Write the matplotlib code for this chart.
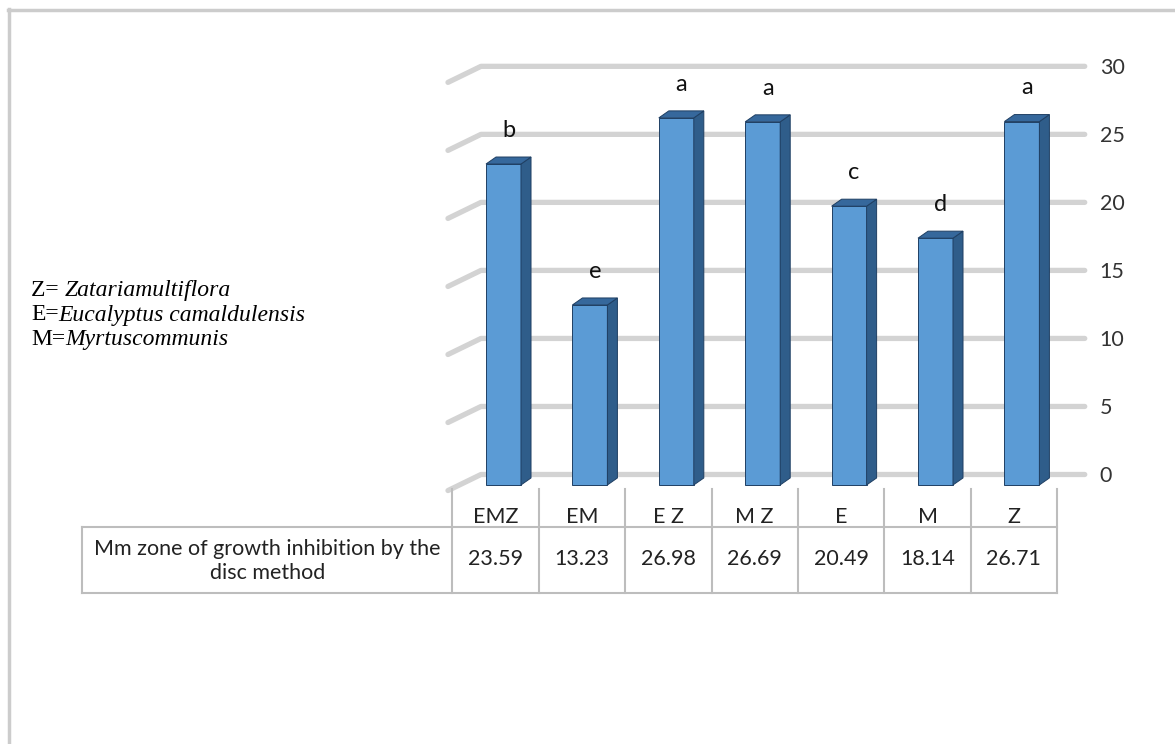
import numpy as np
import matplotlib
matplotlib.use("Agg")
import matplotlib.pyplot as plt
from matplotlib.patches import Polygon
from matplotlib.lines import Line2D
from matplotlib.transforms import blended_transform_factory

categories = ["EMZ", "EM", "E Z", "M Z", "E", "M", "Z"]
values = [23.59, 13.23, 26.98, 26.69, 20.49, 18.14, 26.71]
groups = ["b", "e", "a", "a", "c", "d", "a"]
row_label = "Mm zone of growth inhibition by the\ndisc method"
y_ticks = [0, 5, 10, 15, 20, 25, 30]
legend_lines = [("Z= ", "Zatariamultiflora"),
                ("E=", "Eucalyptus camaldulensis"),
                ("M=", "Myrtuscommunis")]

SANS = "Lato"
SERIF = "Liberation Serif"
GRID = "#d3d3d3"
TABLE = "#bdbdbd"
FRONT = "#5b9bd5"
SIDE = "#2f5d8a"
TOP = "#36689c"
EDGE = "#1f3f63"
TXT = "#222222"

W, H = 1175, 744
fig = plt.figure(figsize=(W / 100, H / 100), dpi=100)

# axes box in pixels: x 440..1090, y 50..500
ax = fig.add_axes([440 / W, 1 - 500 / H, 650 / W, 450 / H])
ax.set_xlim(-0.6424, 6.8808)
ax.set_ylim(-1.875, 31.2)
for s in ax.spines.values():
    s.set_visible(False)

# back wall gridlines with the slanted side-wall stub on the left
for v in y_ticks:
    ax.plot([-0.55, -0.168, 6.82], [v - 1.18, v, v], color=GRID, lw=3.8,
            solid_capstyle="round", solid_joinstyle="round", zorder=1)

# 3-D looking columns: front face + side + top
x = np.arange(len(categories))
base = -0.77
fw = 0.405
ddx, ddy = 0.116, 0.515
ax.bar(x + 0.0925, values, width=fw, bottom=base, color=FRONT,
       edgecolor=EDGE, linewidth=0.7, zorder=3)
for i, v in enumerate(values):
    xl = i - 0.11
    xr = xl + fw
    top = base + v
    ax.add_patch(Polygon([(xr, base), (xr + ddx, base + ddy),
                          (xr + ddx, top + ddy), (xr, top)],
                         closed=True, fc=SIDE, ec=EDGE, lw=0.7, zorder=3))
    ax.add_patch(Polygon([(xl, top), (xl + ddx, top + ddy),
                          (xr + ddx, top + ddy), (xr, top)],
                         closed=True, fc=TOP, ec=EDGE, lw=0.7, zorder=3))
    ax.text(i + 0.15, v + 1.7, groups[i], ha="center", va="center",
            fontsize=17, family=SANS, color="#111111", zorder=4)

# value axis on the right
ax.set_yticks(y_ticks)
ax.yaxis.tick_right()
ax.tick_params(axis="y", length=0, pad=7, labelsize=15.5, labelcolor="#333333")
for t in ax.get_yticklabels():
    t.set_family(SANS)

# category labels sit in the table header row
ax.set_xticks(x)
ax.set_xticklabels(categories, family=SANS, fontsize=15.5, color=TXT)
ax.tick_params(axis="x", length=0, pad=5)

# data table under the plot
tr = blended_transform_factory(ax.transData, fig.transFigure)
def fy(py):
    return 1 - py / H

edges = np.arange(len(categories) + 1) - 0.5
for e in edges:
    ax.add_line(Line2D([e, e], [fy(489), fy(593)], transform=tr, color=TABLE,
                       lw=1.5, clip_on=False))
left = -4.786
ax.add_line(Line2D([left, edges[-1]], [fy(527), fy(527)], transform=tr,
                   color=TABLE, lw=1.5, clip_on=False))
ax.add_line(Line2D([left, edges[-1]], [fy(593), fy(593)], transform=tr,
                   color=TABLE, lw=1.5, clip_on=False))
ax.add_line(Line2D([left, left], [fy(527), fy(593)], transform=tr,
                   color=TABLE, lw=1.5, clip_on=False))
ax.text((left + edges[0]) / 2, fy(561), row_label, transform=tr, ha="center",
        va="center", family=SANS, fontsize=15.5, color=TXT,
        linespacing=1.25, clip_on=False)
for i, v in enumerate(values):
    ax.text(i, fy(559), f"{v:.2f}", transform=tr, ha="center", va="center",
            family=SANS, fontsize=15.5, color=TXT, clip_on=False)

# species key
for k, (abbr, name) in enumerate(legend_lines):
    t = fig.text(31 / W, fy(296 + 24.5 * k), abbr, family=SERIF, fontsize=17,
                 va="baseline", ha="left")
    fig.add_artist(plt.Annotation(name, xy=(1, 0), xycoords=t, va="bottom",
                                  ha="left", family=SERIF, style="italic",
                                  fontsize=17))

# frame around the figure
fig.add_artist(Line2D([8 / W, 1], [fy(10), fy(10)], color="#cccccc", lw=2.5))
fig.add_artist(Line2D([9 / W, 9 / W], [0, fy(9)], color="#cccccc", lw=2.5))

fig.savefig("out.png", dpi=100, facecolor="white")
